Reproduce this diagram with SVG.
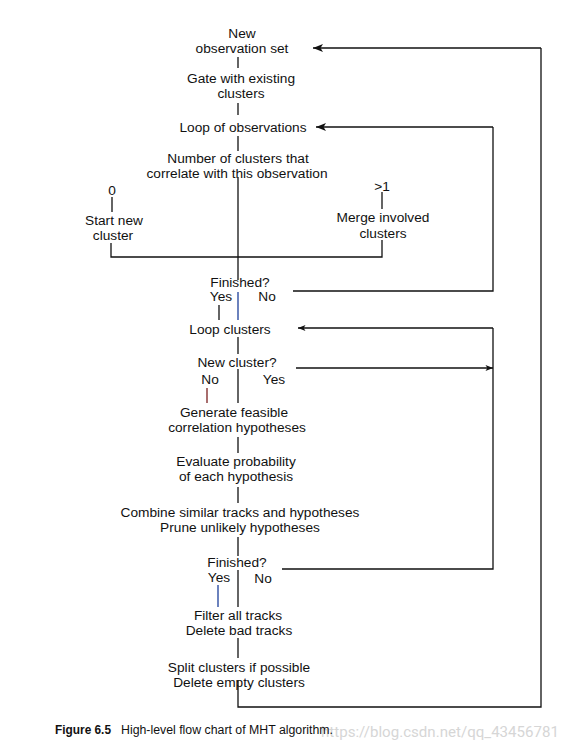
<svg xmlns="http://www.w3.org/2000/svg" width="569" height="752" viewBox="0 0 569 752">
<defs>
<style>
text{font-family:"Liberation Sans",Arial,sans-serif;font-size:13.7px;fill:#111;text-anchor:middle}
.c line,.c polyline{stroke:#111;stroke-width:1.3;fill:none}
.blue{stroke:#1d3f9a !important}
.red{stroke:#7a1f1f !important}
.cap{font-family:"Liberation Sans Narrow","Liberation Sans",sans-serif;font-size:12.5px;text-anchor:start}
.wm{font-family:Roboto,"Liberation Sans",sans-serif;font-size:15px;fill:#d6d6d6;text-anchor:start}
</style>
<marker id="ah" viewBox="0 0 10 8" refX="10" refY="4" markerWidth="10" markerHeight="8" markerUnits="userSpaceOnUse" orient="auto">
<path d="M0,0 L10,4 L0,8 L2.5,4 z" fill="#111"/>
</marker>
<marker id="ahs" viewBox="0 0 10 8" refX="10" refY="4" markerWidth="8" markerHeight="6" markerUnits="userSpaceOnUse" orient="auto">
<path d="M0,0 L10,4 L0,8 L2.5,4 z" fill="#111"/>
</marker>
</defs>
<rect width="569" height="752" fill="#fff"/>

<g id="connectors" class="c">
<line x1="238" y1="57" x2="238" y2="68"/>
<line x1="238" y1="103" x2="238" y2="115"/>
<line x1="238" y1="136" x2="238" y2="151"/>
<line x1="238" y1="177" x2="238" y2="280"/>
<line class="blue" x1="238" y1="292" x2="238" y2="320"/>
<line x1="219" y1="305" x2="219" y2="320"/>
<line x1="238" y1="337" x2="238" y2="354"/>
<line x1="238" y1="369" x2="238" y2="403"/>
<line class="red" x1="207" y1="388" x2="207" y2="403"/>
<line x1="238" y1="437" x2="238" y2="453"/>
<line x1="238" y1="487" x2="238" y2="503"/>
<line x1="238" y1="537" x2="238" y2="556"/>
<line x1="238" y1="570" x2="238" y2="607"/>
<line class="blue" x1="218" y1="585" x2="218" y2="607"/>
<line x1="238" y1="638" x2="238" y2="658"/>
<polyline points="238,680 238,707 541,707 541,48"/>
<line x1="541" y1="48" x2="313" y2="48" marker-end="url(#ah)"/>
<line x1="112" y1="197" x2="112" y2="212"/>
<polyline points="111,243 111,257 382,257 382,240"/>
<line x1="382" y1="192" x2="382" y2="209"/>
<polyline points="293,291 493,291 493,127"/>
<line x1="493" y1="127" x2="316" y2="127" marker-end="url(#ah)"/>
<polyline points="282,569 493,569 493,328"/>
<line x1="493" y1="328" x2="298" y2="328" marker-end="url(#ahs)"/>
<line x1="296" y1="368" x2="493" y2="368" marker-end="url(#ahs)"/>
</g>

<g id="n-new"><text x="242" y="38">New</text><text x="242" y="53">observation set</text></g>
<g id="n-gate"><text x="241" y="83">Gate with existing</text><text x="241" y="98">clusters</text></g>
<g id="n-loopobs"><text x="243" y="132">Loop of observations</text></g>
<g id="n-num"><text x="238" y="163">Number of clusters that</text><text x="237" y="178">correlate with this observation</text></g>
<g id="n-zero"><text x="112" y="195">0</text></g>
<g id="n-gt1"><text x="382" y="191">&gt;1</text></g>
<g id="n-start"><text x="114" y="225">Start new</text><text x="113" y="240">cluster</text></g>
<g id="n-merge"><text x="383" y="222">Merge involved</text><text x="383" y="238">clusters</text></g>
<g id="n-fin1"><text x="240" y="287">Finished?</text><text x="221" y="301">Yes</text><text x="267" y="301">No</text></g>
<g id="n-loopcl"><text x="230" y="334">Loop clusters</text></g>
<g id="n-newcl"><text x="237" y="367">New cluster?</text><text x="210" y="384">No</text><text x="274" y="384">Yes</text></g>
<g id="n-gen"><text x="234" y="417">Generate feasible</text><text x="237" y="432">correlation hypotheses</text></g>
<g id="n-eval"><text x="236" y="466">Evaluate probability</text><text x="236" y="481">of each hypothesis</text></g>
<g id="n-comb"><text x="240" y="517">Combine similar tracks and hypotheses</text><text x="240" y="532">Prune unlikely hypotheses</text></g>
<g id="n-fin2"><text x="237" y="567">Finished?</text><text x="219" y="582">Yes</text><text x="263" y="583">No</text></g>
<g id="n-filter"><text x="238" y="620">Filter all tracks</text><text x="239" y="635">Delete bad tracks</text></g>
<g id="n-split"><text x="239" y="672">Split clusters if possible</text><text x="239" y="687">Delete empty clusters</text></g>

<g id="caption">
<text class="wm" x="321" y="737" textLength="238" lengthAdjust="spacingAndGlyphs">https://blog.csdn.net/qq_43456781</text>
<text class="cap" x="55" y="734" font-weight="bold" textLength="56" lengthAdjust="spacingAndGlyphs">Figure 6.5</text>
<text class="cap" x="121" y="734" textLength="212" lengthAdjust="spacingAndGlyphs">High-level flow chart of MHT algorithm.</text>
</g>
</svg>
